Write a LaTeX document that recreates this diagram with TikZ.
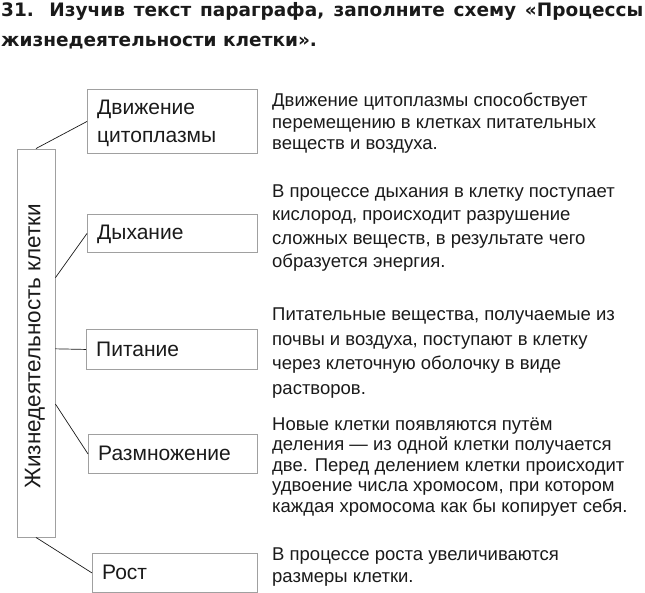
\documentclass[tikz,border=0pt]{standalone}
\usepackage{fontspec}
\setmainfont{Liberation Sans}
\newfontfamily\titlefont{DejaVu Sans}
\usetikzlibrary{calc}
\definecolor{boxgray}{HTML}{A0A0A0}
\definecolor{ink}{HTML}{1A1A1A}
\tikzset{
  box/.style={draw=boxgray, line width=0.9pt, inner sep=0pt, text=ink},
  boxtext/.style={font=\fontsize{21}{28}\selectfont, text=ink, anchor=base west, align=left, inner sep=0pt},
  desc/.style={text=ink, anchor=base west, align=left, inner sep=0pt},
  link/.style={draw=ink, line width=0.7pt},
}
\begin{document}
\begin{tikzpicture}[x=1pt,y=-1pt]
\useasboundingbox (0,0) rectangle (645,593);
% title (anchor = baseline of last line)
\node[anchor=base west, inner sep=0pt, align=left, text=ink,
      font=\titlefont\bfseries\fontsize{18.5}{30}\selectfont] (title) at (1,47)
  {\makebox[642pt][s]{31. Изучив текст параграфа, заполните схему «Процессы}\\
   жизнедеятельности клетки».};
% vertical box
\node[box, minimum width=38pt, minimum height=388pt] (life) at (36,343) {};
\node[rotate=90, inner sep=0pt, text=ink, font=\fontsize{22.5}{26}\selectfont] (lifetext) at (35,346) {Жизнедеятельность клетки};
% process boxes
\node[box, anchor=north west, minimum width=170pt, minimum height=64pt] (b1) at (87,89) {};
\node[boxtext] (t1) at (97,143) {Движение\\цитоплазмы};
\node[box, anchor=north west, minimum width=170pt, minimum height=38pt] (b2) at (87,214) {};
\node[boxtext] (t2) at (97,240) {Дыхание};
\node[box, anchor=north west, minimum width=171pt, minimum height=40pt] (b3) at (86,329) {};
\node[boxtext] (t3) at (96,356) {Питание};
\node[box, anchor=north west, minimum width=169pt, minimum height=39pt] (b4) at (88,434) {};
\node[boxtext] (t4) at (98,460) {Размножение};
\node[box, anchor=north west, minimum width=165pt, minimum height=39pt] (b5) at (92,553) {};
\node[boxtext] (t5) at (102,579) {Рост};
% connectors
\draw[link] (life.north) -- (b1.west);
\draw[link] ($(life.north east)!0.332!(life.south east)$) -- (b2.west);
\draw[link] ($(life.north east)!0.515!(life.south east)$) -- (b3.west);
\draw[link] ($(life.north east)!0.657!(life.south east)$) -- (b4.west);
\draw[link] (life.south) -- (b5.west);
% descriptions (anchor = baseline of last line)
\node[desc, font=\fontsize{18.5}{21.5}\selectfont] (d1) at (272,150)
  {Движение цитоплазмы способствует\\перемещению в клетках питательных\\веществ и воздуха.};
\node[desc, font=\fontsize{18.5}{23.5}\selectfont] (d2) at (272,268)
  {В процессе дыхания в клетку поступает\\кислород, происходит разрушение\\сложных веществ, в результате чего\\образуется энергия.};
\node[desc, font=\fontsize{18.5}{24.5}\selectfont] (d3) at (272,394)
  {Питательные вещества, получаемые из\\почвы и воздуха, поступают в клетку\\через клеточную оболочку в виде\\растворов.};
\node[desc, font=\fontsize{18.5}{20.5}\selectfont] (d4) at (272,512)
  {Новые клетки появляются путём\\деления — из одной клетки получается\\две. Перед делением клетки происходит\\удвоение числа хромосом, при котором\\каждая хромосома как бы копирует себя.};
\node[desc, font=\fontsize{18.5}{22}\selectfont] (d5) at (272,582)
  {В процессе роста увеличиваются\\размеры клетки.};
\end{tikzpicture}
\end{document}
